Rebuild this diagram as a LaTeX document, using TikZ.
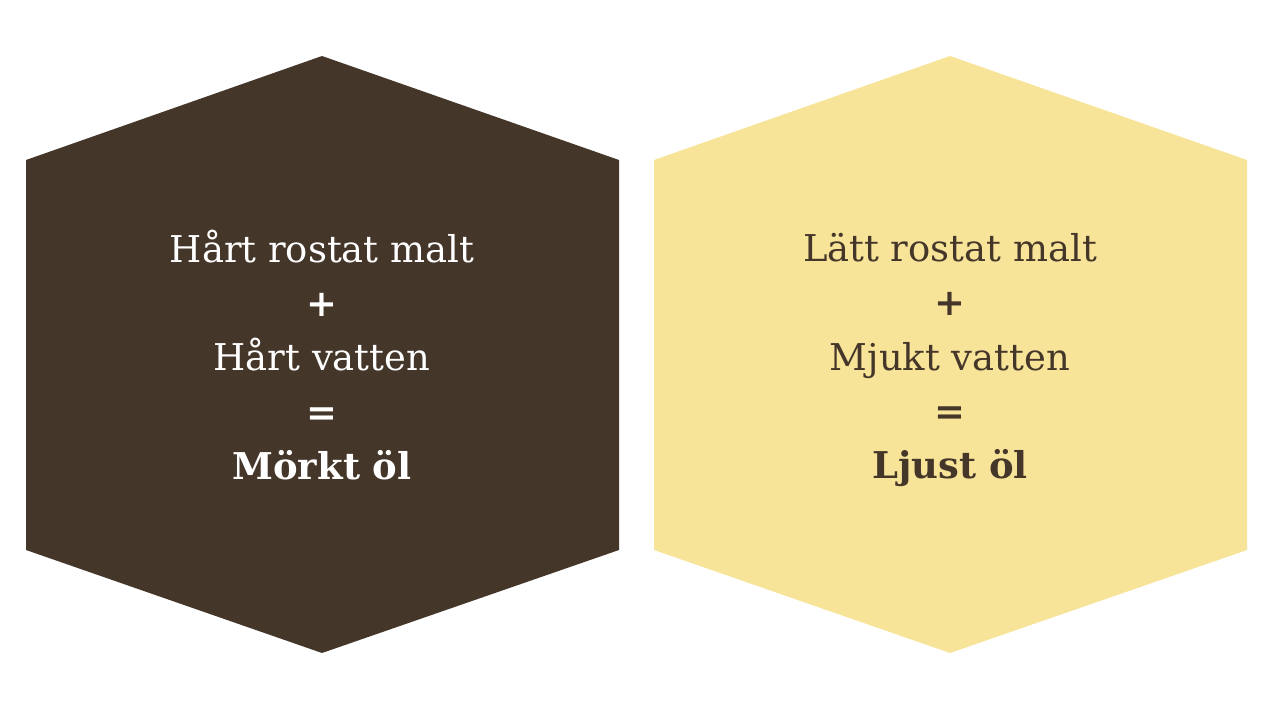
\documentclass[tikz,border=0pt]{standalone}
\usepackage{fontspec}
\setmainfont{DejaVu Serif}
\definecolor{darkmalt}{HTML}{45362A}
\definecolor{lightmalt}{HTML}{F7E499}
\usetikzlibrary{positioning}

\begin{document}
\begin{tikzpicture}[x=0.01cm,y=-0.01cm,
    hexfill/.style={fill=#1, draw=none},
    recipe/.style={align=center, font=\fontsize{10.5}{15.4}\selectfont, inner sep=0pt}]
  \useasboundingbox (0,0) rectangle (1274,704);
  % left hexagon
  \fill[hexfill=darkmalt] (322,56) -- (619,160) -- (619,550) -- (322,653) -- (26,550) -- (26,160) -- cycle;
  % right hexagon
  \fill[hexfill=lightmalt] (950,56) -- (1247,160) -- (1247,550) -- (950,653) -- (654,550) -- (654,160) -- cycle;
  \node [recipe, text=white] (dark) at (322,355)
    {Hårt rostat malt\\ \textbf{+}\\ Hårt vatten\\ \textbf{=}\\ \textbf{Mörkt öl}};
  \node [recipe, text=darkmalt] (light) at (950,360)
    {Lätt rostat malt\\ \textbf{+}\\ Mjukt vatten\\ \textbf{=}\\ \textbf{Ljust öl}};
\end{tikzpicture}
\end{document}
